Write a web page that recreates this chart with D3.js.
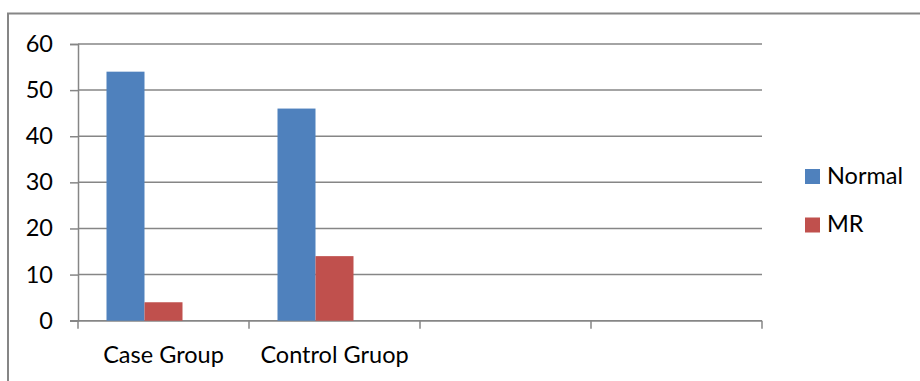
<!DOCTYPE html>
<html>
<head>
<meta charset="utf-8">
<script src="https://cdn.jsdelivr.net/npm/d3@7"></script>
<style>
  html, body { margin: 0; padding: 0; background: #fff; }
  svg { display: block; }
  text { font-family: Lato, "Open Sans", sans-serif; fill: #000; }
</style>
</head>
<body>
<svg id="chart" width="920" height="381"></svg>
<script>
// Categories along the x axis (the last two slots are empty)
const categories = ["Case Group", "Control Gruop", "", ""];
// Series names; the third cluster slot carries no data
const seriesNames = ["Normal", "MR"];
const slotNames = ["Normal", "MR", "_blank"];
const normalValues = [54, 46];
const mrValues = [4, 14];
const yTicks = [0, 10, 20, 30, 40, 50, 60];
const seriesColors = ["#4F81BD", "#C0504D"];

const svg = d3.select("#chart");
const gridColor = "#868686";
const fontSize = 23.5;

// Outer chart frame
svg.append("rect")
  .attr("x", 8).attr("y", 13.5)
  .attr("width", 1000).attr("height", 500)
  .attr("fill", "none").attr("stroke", gridColor).attr("stroke-width", 2);

const plot = { left: 78, right: 762, top: 44, bottom: 320.7 };

const x0 = d3.scaleBand().domain(categories.map((c, i) => i))
  .range([plot.left, plot.right]).paddingInner(0).paddingOuter(0);
const x1 = d3.scaleBand().domain(slotNames)
  .range([0, x0.bandwidth()]).paddingInner(0).paddingOuter(0.75);
const y = d3.scaleLinear().domain([0, 60]).range([plot.bottom, plot.top]);

// Horizontal gridlines
svg.append("g").selectAll("line").data(yTicks).join("line")
  .attr("x1", plot.left).attr("x2", plot.right)
  .attr("y1", d => y(d)).attr("y2", d => y(d))
  .attr("stroke", gridColor).attr("stroke-width", 1.5);

// Y axis
const yAxis = svg.append("g").attr("transform", `translate(${plot.left},0)`)
  .call(d3.axisLeft(y).tickValues(yTicks).tickSize(8).tickPadding(17));
yAxis.select(".domain").attr("stroke", gridColor).attr("stroke-width", 1.5);
yAxis.selectAll(".tick line").attr("stroke", gridColor).attr("stroke-width", 1.5);
yAxis.selectAll(".tick text").attr("font-size", fontSize).attr("font-family", "Lato").attr("fill", "#000");

// X axis with ticks at category boundaries
const xAxis = svg.append("g").attr("transform", `translate(0,${plot.bottom})`);
const boundaries = d3.range(categories.length + 1).map(i =>
  i < categories.length ? x0(i) : x0(categories.length - 1) + x0.bandwidth());
xAxis.append("line")
  .attr("x1", plot.left - 8).attr("x2", plot.right)
  .attr("y1", 0).attr("y2", 0)
  .attr("stroke", gridColor).attr("stroke-width", 1.5);
xAxis.selectAll("line.tick").data(boundaries).join("line")
  .attr("class", "tick")
  .attr("x1", d => d).attr("x2", d => d)
  .attr("y1", 0).attr("y2", 8)
  .attr("stroke", gridColor).attr("stroke-width", 1.5);
xAxis.selectAll("text").data(categories).join("text")
  .attr("x", (d, i) => x0(i) + x0.bandwidth() / 2)
  .attr("y", 42.5)
  .attr("text-anchor", "middle")
  .attr("font-size", fontSize)
  .text(d => d);

// Bars
const seriesValues = [normalValues, mrValues];
const groups = svg.append("g").selectAll("g")
  .data(categories.slice(0, 2).map((c, i) => i)).join("g")
  .attr("transform", i => `translate(${x0(i)},0)`);
groups.selectAll("rect")
  .data(i => seriesNames.map((s, k) => ({ s, k, v: seriesValues[k][i] })))
  .join("rect")
  .attr("x", d => x1(d.s))
  .attr("width", x1.bandwidth())
  .attr("y", d => y(d.v))
  .attr("height", d => y(0) - y(d.v))
  .attr("fill", d => seriesColors[d.k]);

// Legend
const legend = svg.append("g").selectAll("g").data(seriesNames).join("g")
  .attr("transform", (d, i) => `translate(805,${169 + i * 48.5})`);
legend.append("rect").attr("width", 15).attr("height", 15)
  .attr("fill", (d, i) => seriesColors[i]);
legend.append("text").attr("x", 22).attr("y", 14.5)
  .attr("font-size", fontSize).text(d => d);
</script>
</body>
</html>
